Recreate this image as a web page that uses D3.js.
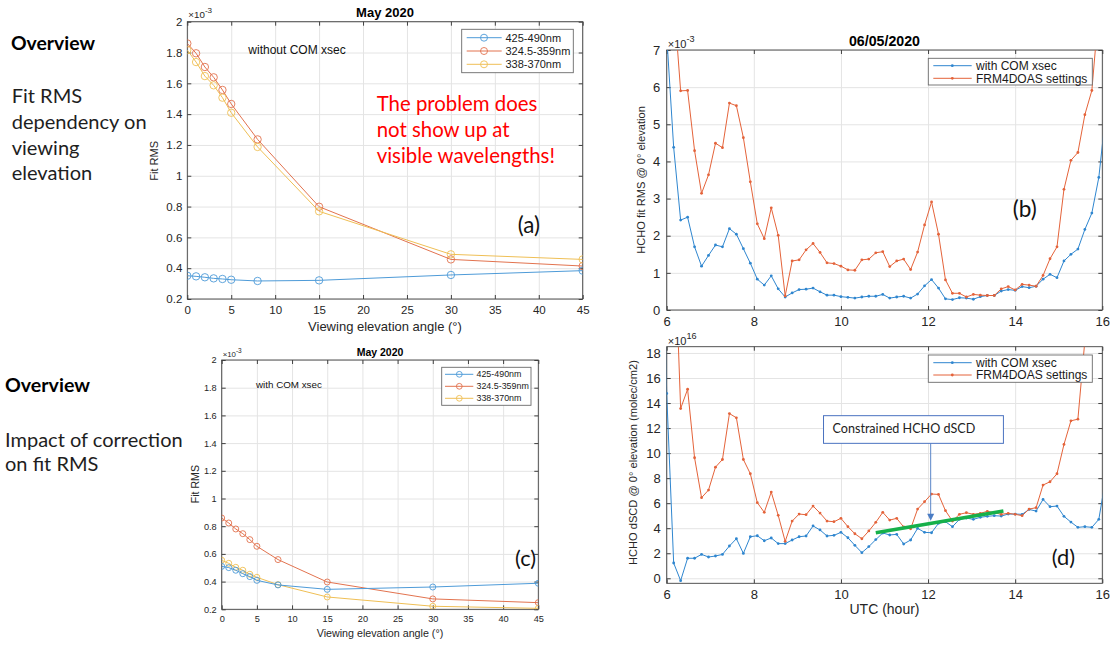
<!DOCTYPE html>
<html>
<head>
<meta charset="utf-8">
<script src="https://cdn.jsdelivr.net/npm/d3@7"></script>
<style>
  body { margin: 0; background: #fff; }
  svg text { font-family: "Liberation Sans", Arial, sans-serif; }
  svg text.slide { font-family: Lato, "Open Sans", sans-serif; }
</style>
</head>
<body>
<svg id="fig" width="1113" height="653"></svg>
<script>
// ---- data -----------------------------------------------------------
const elevAngles = [0, 1, 2, 3, 4, 5, 8, 15, 30, 45];
const bandNames = ["425-490nm", "324.5-359nm", "338-370nm"];

// (a) fit RMS without COM xsec (x 1e-3)
const rmsNoCom425 = [0.351, 0.347, 0.341, 0.334, 0.330, 0.325, 0.317, 0.321, 0.356, 0.384];
const rmsNoCom324 = [1.859, 1.795, 1.706, 1.639, 1.557, 1.466, 1.236, 0.799, 0.457, 0.414];
const rmsNoCom338 = [1.816, 1.738, 1.647, 1.587, 1.507, 1.409, 1.187, 0.769, 0.490, 0.457];

// (c) fit RMS with COM xsec (x 1e-3)
const rmsCom425 = [0.510, 0.501, 0.482, 0.457, 0.436, 0.409, 0.376, 0.344, 0.361, 0.388];
const rmsCom324 = [0.859, 0.823, 0.780, 0.746, 0.703, 0.655, 0.559, 0.397, 0.275, 0.248];
const rmsCom338 = [0.554, 0.532, 0.503, 0.482, 0.453, 0.431, 0.378, 0.289, 0.222, 0.207];

const elevTicks = [0, 5, 10, 15, 20, 25, 30, 35, 40, 45];
const rmsTicks = [0.2, 0.4, 0.6, 0.8, 1, 1.2, 1.4, 1.6, 1.8, 2];

// 06/05/2020 time series, UTC hours
const utcHours = [5.84, 6.00, 6.16, 6.32, 6.48, 6.64, 6.80, 6.96, 7.12, 7.28, 7.44, 7.60, 7.76,
  7.92, 8.08, 8.24, 8.40, 8.56, 8.72, 8.88, 9.04, 9.20, 9.36, 9.52, 9.68, 9.84, 10.00,
  10.16, 10.32, 10.48, 10.64, 10.80, 10.96, 11.12, 11.28, 11.44, 11.60, 11.76, 11.92,
  12.08, 12.24, 12.40, 12.56, 12.72, 12.88, 13.04, 13.20, 13.36, 13.52, 13.68, 13.84,
  14.00, 14.16, 14.32, 14.48, 14.64, 14.80, 14.96, 15.12, 15.28, 15.44, 15.60, 15.76,
  15.92, 16.08];

// (b) HCHO fit RMS @ 0 deg (x 1e-3)
const fitRmsCom = [12, 7.4, 4.38, 2.42, 2.50, 1.70, 1.18, 1.47, 1.75, 1.70, 2.19, 2.04, 1.65,
  1.26, 0.83, 0.67, 0.92, 0.57, 0.35, 0.46, 0.55, 0.56, 0.59, 0.49, 0.40, 0.40, 0.36,
  0.34, 0.32, 0.35, 0.37, 0.37, 0.42, 0.32, 0.35, 0.37, 0.32, 0.43, 0.65,
  0.82, 0.59, 0.30, 0.28, 0.33, 0.32, 0.29, 0.36, 0.39, 0.39, 0.51, 0.55,
  0.53, 0.63, 0.60, 0.64, 0.83, 0.96, 0.87, 1.32, 1.50, 1.64, 2.17, 2.61,
  3.57, 5.3];
const fitRmsFrm = [12, 10, 8.4, 5.90, 5.91, 4.29, 3.14, 3.64, 4.49, 4.37, 5.57, 5.50, 4.64,
  3.45, 2.32, 1.92, 2.75, 2.01, 0.38, 1.32, 1.35, 1.62, 1.79, 1.55, 1.27, 1.25, 1.18,
  1.08, 1.07, 1.35, 1.37, 1.54, 1.57, 1.17, 1.32, 1.37, 1.09, 1.56, 2.29,
  2.91, 2.04, 0.81, 0.45, 0.45, 0.35, 0.42, 0.40, 0.39, 0.39, 0.57, 0.63,
  0.54, 0.69, 0.67, 0.64, 0.93, 1.38, 1.70, 3.25, 4.03, 4.24, 5.26, 5.91,
  8.1, 10];

// (d) HCHO dSCD @ 0 deg (x 1e16 molec/cm2)
const dscdCom = [40, 14.76, 1.22, -0.19, 1.60, 1.60, 1.91, 1.70, 1.78, 1.91, 2.58, 3.16, 1.99,
  3.32, 3.40, 3.00, 3.22, 2.77, 2.77, 3.06, 3.32, 3.38, 4.18, 3.86, 3.38, 3.43, 3.67,
  3.24, 2.63, 2.05, 2.53, 3.09, 3.62, 3.46, 3.51, 2.74, 3.06, 3.99, 3.67,
  3.64, 4.39, 4.52, 4.12, 4.71, 4.81, 4.71, 4.87, 4.95, 5.00, 4.97, 5.13,
  5.13, 5.11, 5.50, 5.37, 6.30, 5.72, 5.77, 4.95, 4.49, 4.07, 4.12, 4.07,
  4.71, 8.0];
const dscdFrm = [40, 35, 29, 13.56, 15.10, 9.63, 6.44, 7.05, 8.88, 9.49, 13.16, 12.82, 9.49,
  8.35, 6.04, 5.27, 6.89, 5.03, 2.95, 4.57, 5.13, 5.08, 5.77, 5.21, 4.57, 4.52, 4.79,
  4.12, 3.56, 3.16, 3.78, 4.47, 5.27, 4.65, 4.79, 4.10, 3.95, 5.53, 6.12,
  6.73, 6.70, 5.40, 4.57, 5.11, 5.24, 5.11, 5.19, 5.35, 5.24, 5.11, 5.19,
  5.11, 5.00, 5.53, 5.64, 7.45, 7.71, 8.35, 10.69, 12.58, 12.71, 19.0, 25,
  30, 35];

const seriesNames = ["with COM xsec", "FRM4DOAS settings"];
const hourTicks = [6, 8, 10, 12, 14, 16];
const rmsTimeTicks = [0, 1, 2, 3, 4, 5, 6, 7];
const dscdTicks = [0, 2, 4, 6, 8, 10, 12, 14, 16, 18];

// constrained dSCD trend (green line)
const trendHours = [10.80, 13.73];
const trendDscd = [3.64, 5.37];

const bandColors = ["#4e9bd8", "#e2734f", "#efbf55"];
const timeColors = ["#2f86cf", "#e4633a"];

// ---- helpers ---------------------------------------------------------
const svg = d3.select("#fig");
let clipId = 0;

function frame(g, x, y, w, h, xt, yt, p) {
	g.append("g")
		.call(d3.axisBottom(x).tickValues(xt).tickSize(h).tickFormat(""))
		.call((a) => a.select(".domain").remove())
		.selectAll("line").attr("stroke", "#e4e4e4");
	g.append("g")
		.call(d3.axisLeft(y).tickValues(yt).tickSize(-w).tickFormat(""))
		.call((a) => a.select(".domain").remove())
		.selectAll("line").attr("stroke", "#e4e4e4");

	g.append("rect")
		.attr("width", w).attr("height", h)
		.attr("fill", "none").attr("stroke", "#404040").attr("stroke-width", 0.9);

	const fmt = d3.format("~g");
	const styleAxis = (a) => {
		a.select(".domain").remove();
		a.attr("font-size", p.tickFs).attr("font-family", null);
		a.selectAll("line").attr("stroke", "#404040");
		a.selectAll("text").attr("fill", "#262626");
	};
	g.append("g").attr("transform", `translate(0,${h})`)
		.call(d3.axisBottom(x).tickValues(xt).tickSizeInner(-4).tickSizeOuter(0)
			.tickPadding(p.xPad).tickFormat(fmt))
		.call(styleAxis);
	g.append("g")
		.call(d3.axisTop(x).tickValues(xt).tickSizeInner(-4).tickSizeOuter(0).tickFormat(""))
		.call(styleAxis);
	g.append("g")
		.call(d3.axisLeft(y).tickValues(yt).tickSizeInner(-4).tickSizeOuter(0)
			.tickPadding(p.yPad).tickFormat(fmt))
		.call(styleAxis);
	g.append("g").attr("transform", `translate(${w},0)`)
		.call(d3.axisRight(y).tickValues(yt).tickSizeInner(-4).tickSizeOuter(0).tickFormat(""))
		.call(styleAxis);

	// exponent multiplier
	const m = g.append("text")
		.attr("x", 1).attr("y", p.expY)
		.attr("font-size", p.tickFs).attr("fill", "#262626");
	m.append("tspan").attr("font-size", p.tickFs * 0.85).text("\u00d710");
	m.append("tspan").attr("dy", -p.tickFs * 0.45).attr("font-size", p.tickFs * 0.7).text(p.exp);

	if (p.title) {
		g.append("text")
			.attr("x", w / 2).attr("y", p.titleY)
			.attr("text-anchor", "middle").attr("font-weight", "bold")
			.attr("font-size", p.titleFs).attr("fill", "#000")
			.text(p.title);
	}
	g.append("text")
		.attr("x", w / 2).attr("y", p.xLabelY)
		.attr("text-anchor", "middle").attr("font-size", p.labelFs).attr("fill", "#262626")
		.text(p.xLabel);
	g.append("text")
		.attr("transform", `translate(${p.yLabelX},${h / 2 + (p.yLabelDy || 0)}) rotate(-90)`)
		.attr("text-anchor", "middle").attr("font-size", p.yLabelFs).attr("fill", "#262626")
		.text(p.yLabel);
}

function clipFor(g, w, h) {
	const id = "clip" + clipId++;
	g.append("clipPath").attr("id", id)
		.append("rect").attr("width", w).attr("height", h);
	return g.append("g").attr("clip-path", `url(#${id})`);
}

function legend(g, box, rows, p) {
	g.append("rect")
		.attr("x", box[0]).attr("y", box[1])
		.attr("width", box[2]).attr("height", box[3])
		.attr("fill", "#fff").attr("stroke", "#6a6a6a").attr("stroke-width", 0.9);
	rows.forEach((r, i) => {
		const yy = p.rowY[i];
		g.append("line")
			.attr("x1", p.lineX[0]).attr("x2", p.lineX[1])
			.attr("y1", yy).attr("y2", yy)
			.attr("stroke", r.color).attr("stroke-width", 1);
		if (p.marker === "o") {
			g.append("circle").attr("cx", p.markX).attr("cy", yy).attr("r", p.r)
				.attr("fill", "none").attr("stroke", r.color).attr("stroke-width", 0.9);
		} else {
			g.append("circle").attr("cx", p.markX).attr("cy", yy).attr("r", 1.4)
				.attr("fill", r.color);
		}
		g.append("text")
			.attr("x", p.textX).attr("y", yy).attr("dy", "0.35em")
			.attr("font-size", p.fs).attr("fill", "#1a1a1a")
			.text(r.name);
	});
}

// ---- elevation panels (a) and (c) -----------------------------------
function elevPanel(p) {
	const w = p.right - p.left, h = p.bottom - p.top;
	const x = d3.scaleLinear().domain([0, 45]).range([0, w]);
	const y = d3.scaleLinear().domain([0.2, 2]).range([h, 0]);
	const g = svg.append("g").attr("transform", `translate(${p.left},${p.top})`);

	frame(g, x, y, w, h, elevTicks, rmsTicks, p);

	g.append("text")
		.attr("x", p.noteX - p.left).attr("y", p.noteY - p.top)
		.attr("font-size", p.noteFs).attr("fill", "#111")
		.text(p.note);

	const plot = clipFor(g, w, h);
	const line = d3.line().x((d, i) => x(elevAngles[i])).y((d) => y(d));
	// draw order as in the figure: orange, yellow, then blue on top
	[1, 2, 0].forEach((k) => {
		const vals = p.series[k];
		plot.append("path")
			.attr("d", line(vals))
			.attr("fill", "none").attr("stroke", bandColors[k]).attr("stroke-width", 1);
		plot.selectAll(null).data(vals).join("circle")
			.attr("cx", (d, i) => x(elevAngles[i]))
			.attr("cy", (d) => y(d))
			.attr("r", p.r)
			.attr("fill", "none").attr("stroke", bandColors[k]).attr("stroke-width", 0.9);
	});

	const lg = svg.append("g");
	legend(lg, p.legendBox,
		bandNames.map((n, i) => ({ name: n, color: bandColors[i] })), p.legend);
}

elevPanel({
	left: 187.3, right: 582.7, top: 21.7, bottom: 299,
	series: [rmsNoCom425, rmsNoCom324, rmsNoCom338],
	tickFs: 11.5, xPad: 6.5, yPad: 5, expY: -3.5, exp: "-3",
	title: "May 2020", titleY: -5, titleFs: 13,
	xLabel: "Viewing elevation angle (\u00b0)", xLabelY: 331 - 21.7, labelFs: 13,
	yLabel: "Fit RMS", yLabelX: 157.5 - 187.3, yLabelFs: 11, yLabelDy: 0.5,
	note: "without COM xsec", noteX: 248.3, noteY: 54, noteFs: 12,
	r: 3.7,
	legendBox: [461.7, 29.3, 111.6, 43.4],
	legend: { rowY: [37.7, 51, 64.3], lineX: [466.7, 501.7], markX: 484, textX: 505.5, fs: 11, marker: "o", r: 3.5 },
});

elevPanel({
	left: 221.7, right: 538.3, top: 360, bottom: 609.3,
	series: [rmsCom425, rmsCom324, rmsCom338],
	tickFs: 9.2, xPad: 6, yPad: 5, expY: -2.7, exp: "-3",
	title: "May 2020", titleY: -4.3, titleFs: 10.5,
	xLabel: "Viewing elevation angle (\u00b0)", xLabelY: 636.5 - 360, labelFs: 10.7,
	yLabel: "Fit RMS", yLabelX: 199 - 221.7, yLabelFs: 10.6, yLabelDy: -0.5,
	note: "with COM xsec", noteX: 256, noteY: 388.3, noteFs: 9.8,
	r: 3,
	legendBox: [441.7, 367.3, 89.3, 38],
	legend: { rowY: [374.3, 386.3, 398.3], lineX: [445, 473.3], markX: 459.3, textX: 476.5, fs: 8.9, marker: "o", r: 2.9 },
});

// ---- time series panels (b) and (d) -----------------------------------
function timePanel(p) {
	const w = p.right - p.left, h = p.bottom - p.top;
	const x = d3.scaleLinear().domain([6, 16]).range([0, w]);
	const y = d3.scaleLinear().domain(p.yDomain).range([h, 0]);
	const g = svg.append("g").attr("transform", `translate(${p.left},${p.top})`);

	frame(g, x, y, w, h, hourTicks, p.yTicks, p);

	const plot = clipFor(g, w, h);
	const line = d3.line().x((d, i) => x(utcHours[i])).y((d) => y(d));
	p.series.forEach((vals, k) => {
		plot.append("path")
			.attr("d", line(vals))
			.attr("fill", "none").attr("stroke", timeColors[k]).attr("stroke-width", 1);
		plot.selectAll(null).data(vals).join("circle")
			.attr("cx", (d, i) => x(utcHours[i]))
			.attr("cy", (d) => y(d))
			.attr("r", 1.4)
			.attr("fill", timeColors[k]);
	});

	const lg = svg.append("g");
	legend(lg, p.legendBox,
		seriesNames.map((n, i) => ({ name: n, color: timeColors[i] })), p.legend);

	if (p.after) p.after(g, x, y);
}

timePanel({
	left: 666.7, right: 1102.3, top: 50, bottom: 310,
	yDomain: [0, 7], yTicks: rmsTimeTicks,
	series: [fitRmsCom, fitRmsFrm],
	tickFs: 13, xPad: 6.5, yPad: 6.5, expY: -2.3, exp: "-3",
	title: "06/05/2020", titleY: -4, titleFs: 14.2,
	xLabel: "", xLabelY: 0, labelFs: 14,
	yLabel: "HCHO fit RMS @ 0\u00b0 elevation", yLabelX: 645 - 666.7, yLabelFs: 11.1, yLabelDy: 0,
	legendBox: [928.3, 58.3, 164, 26.7],
	legend: { rowY: [65.7, 78.3], lineX: [933.3, 971.7], markX: 952.3, textX: 976, fs: 12, marker: "." },
});

timePanel({
	left: 666.7, right: 1102.3, top: 346.7, bottom: 583.3,
	yDomain: [-0.4, 18.5], yTicks: dscdTicks,
	series: [dscdCom, dscdFrm],
	tickFs: 13, xPad: 6.5, yPad: 6, expY: -1.7, exp: "16",
	title: "", titleY: 0, titleFs: 14,
	xLabel: "UTC (hour)", xLabelY: 614 - 346.7, labelFs: 14,
	yLabel: "HCHO dSCD @ 0\u00b0 elevation (molec/cm2)", yLabelX: 637 - 666.7, yLabelFs: 11.1, yLabelDy: -2.5,
	legendBox: [928.3, 355, 164, 27.3],
	legend: { rowY: [362.7, 375], lineX: [933.3, 971.7], markX: 952.3, textX: 976, fs: 12, marker: "." },
	after: (g, x, y) => {
		// green constrained trend
		g.append("path")
			.attr("d", d3.line().x((d, i) => x(trendHours[i])).y((d) => y(d))(trendDscd))
			.attr("stroke", "#16b04a").attr("stroke-width", 3.6).attr("fill", "none");
		// annotation box and arrow
		const bx = x(9.60), by = y(12.99), bw = x(13.73) - x(9.60), bh = y(10.78) - y(12.99);
		const ax = x(12.06);
		g.append("line")
			.attr("x1", ax).attr("x2", ax)
			.attr("y1", by + bh).attr("y2", y(4.6) - 6)
			.attr("stroke", "#5a86c8").attr("stroke-width", 1);
		g.append("path")
			.attr("d", `M${ax - 3.5},${y(4.6) - 7}L${ax + 3.5},${y(4.6) - 7}L${ax},${y(4.6)}Z`)
			.attr("fill", "#4a7cc4");
		g.append("rect")
			.attr("x", bx).attr("y", by).attr("width", bw).attr("height", bh)
			.attr("fill", "#fff").attr("stroke", "#4a72c0").attr("stroke-width", 1);
		const t = g.append("text").attr("class", "slide")
			.attr("x", bx + 9).attr("y", by + 17.6)
			.attr("font-size", 14).attr("fill", "#222")
			.text("Constrained HCHO dSCD");
		fitText(t, 142.7);
	},
});

// ---- slide text --------------------------------------------------------
function fitText(sel, target) {
	const fs = parseFloat(sel.attr("font-size"));
	const len = sel.node().getComputedTextLength();
	sel.attr("font-size", (fs * target / len).toFixed(2));
	return fs * target / len;
}

function textBlock(lines, x, baselines, refIdx, refWidth, opts) {
	const nodes = lines.map((s, i) => svg.append("text").attr("class", "slide")
		.attr("x", x).attr("y", baselines[i])
		.attr("font-size", 20)
		.attr("font-weight", opts.bold ? "bold" : "normal")
		.attr("fill", opts.color)
		.text(s));
	const fs = fitText(nodes[refIdx], refWidth);
	nodes.forEach((n) => n.attr("font-size", fs.toFixed(2)));
}

textBlock(["Overview"], 11, [50], 0, 84, { bold: true, color: "#000" });
textBlock(["Fit RMS", "dependency on", "viewing", "elevation"], 11.7,
	[102.7, 128.5, 154.5, 179.5], 1, 135, { color: "#1e1e1e" });
textBlock(["Overview"], 5, [392.3], 0, 85, { bold: true, color: "#000" });
textBlock(["Impact of correction", "on fit RMS"], 5, [447.3, 470.5], 0, 177.7, { color: "#1e1e1e" });

textBlock(["The problem does", "not show up at", "visible wavelengths!"], 376.7,
	[111.2, 137, 163], 2, 178.3, { color: "#ff0000" });

textBlock(["(a)"], 517.7, [233], 0, 22.3, { color: "#111" });
textBlock(["(b)"], 1012.7, [216.5], 0, 24, { color: "#111" });
textBlock(["(c)"], 515, [565.5], 0, 21, { color: "#111" });
textBlock(["(d)"], 1051.7, [564.5], 0, 23.3, { color: "#111" });
</script>
</body>
</html>
